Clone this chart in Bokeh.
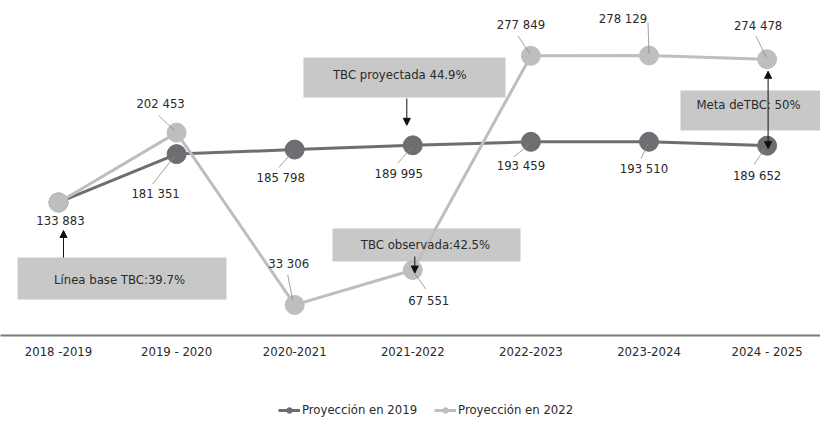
from bokeh.plotting import figure
from bokeh.layouts import column
from bokeh.models import (ColumnDataSource, Range1d, FixedTicker, LabelSet, Label,
                          BoxAnnotation, Arrow, NormalHead, Legend, LegendItem)
from bokeh.core.properties import value
from bokeh.embed import file_html
from bokeh.resources import INLINE

# ---------------- data ----------------
periods = ["2018 -2019", "2019 - 2020", "2020-2021", "2021-2022",
           "2022-2023", "2023-2024", "2024 - 2025"]
proy_2019 = [133883, 181351, 185798, 189995, 193459, 193510, 189652]
proy_2022 = [133883, 202453, 33306, 67551, 277849, 278129, 274478]
series_names = ["Proyección en 2019", "Proyección en 2022"]
annotations = ["Línea base TBC:39.7%", "TBC  proyectada  44.9%",
               "TBC observada:42.5%", "Meta deTBC: 50%"]

# ---------------- style ----------------
FONT = "DejaVu Sans Condensed"
TXT = "#2a2a2a"
DARK = "#6d6e71"
LIGHT = "#bcbec0"
BOXC = "#c8c8c8"
LEAD = "#8a8a8a"
FS = "13px"

W = 820
H_MAIN, H_LEG = 384, 40
FRAME_H = 335
PXX = 118.1                     # px per category
UPY = 981.65                    # units per px
X0 = -58 / PXX
X1 = X0 + W / PXX
Y0 = 3300
Y1 = Y0 + FRAME_H * UPY


def to_x(px):   # picture px -> data x
    return X0 + px / PXX


def to_y(py):   # picture px -> data y
    return Y1 - py * UPY


def fmt(v):
    return f"{v:,}".replace(",", " ")


xs = list(range(len(periods)))

p = figure(width=W, height=H_MAIN, output_backend="svg", toolbar_location=None,
           x_range=Range1d(X0, X1), y_range=Range1d(Y0, Y1),
           y_axis_location=None, min_border_left=0, min_border_right=0,
           min_border_top=0, min_border_bottom=H_MAIN - FRAME_H)
p.outline_line_color = None
p.grid.visible = False
p.background_fill_color = "white"

# x axis
ax = p.xaxis[0]
ax.ticker = FixedTicker(ticks=xs)
ax.major_label_overrides = {i: s for i, s in enumerate(periods)}
ax.major_tick_out = 0
ax.major_tick_in = 0
ax.minor_tick_out = 0
ax.minor_tick_in = 0
ax.axis_line_color = "#7a7a7a"
ax.axis_line_width = 2
ax.major_label_standoff = 8
ax.major_label_text_font = FONT
ax.major_label_text_font_size = FS
ax.major_label_text_color = TXT

# annotation boxes (behind everything)
boxes = [(17, 257, 226, 299), (303, 57, 505, 97), (332, 228, 520, 261), (680, 90, 822, 130)]
text_pos = [(119, 279), (403, 74), (425, 244), (748, 104)]
for (l, t, r, b), (tx, ty), txt in zip(boxes, text_pos, annotations):
    p.add_layout(BoxAnnotation(left=to_x(l), right=to_x(r), top=to_y(t), bottom=to_y(b),
                               fill_color=BOXC, fill_alpha=1, line_color=None, level="underlay"))
    p.add_layout(Label(x=to_x(tx), y=to_y(ty), text=txt, text_font=FONT, text_font_size=FS,
                       text_color=TXT, text_align="center", text_baseline="middle"))

src19 = ColumnDataSource(dict(x=xs, y=proy_2019))
src22 = ColumnDataSource(dict(x=xs, y=proy_2022))

p.line("x", "y", source=src19, line_color=DARK, line_width=3)
p.scatter("x", "y", source=src19, size=19, fill_color=DARK, line_color=DARK)
p.line("x", "y", source=src22, line_color=LIGHT, line_width=3)
p.scatter("x", "y", source=src22, size=19, fill_color=LIGHT, line_color=LIGHT)

# value labels: label dx, dy, leader start dx, dy, leader end dx, dy (px, dy downwards)
off19 = {1: (-21, 39, -24, 30, -2, 2), 2: (-14, 28, -16, 18, -1, 1), 3: (-14, 28, -15, 18, -1, 2),
         4: (-10, 24, -17, 15, -1, 2), 5: (-5, 27, -8, 17, -1, 2), 6: (-10, 30, -13, 19, -2, 2)}
off22 = {0: (2, 18, None, None, None, None), 1: (-16, -29, -18, -17, -2, -2),
         2: (-6, -41, -7, -30, -2, -5), 3: (16, 30, 1, 2, 13, 19),
         4: (-10, -31, -13, -20, -1, -2), 5: (-26, -37, -1, -33, 0, -2),
         6: (-9, -34, -11, -23, -1, -2)}

lab = dict(x=[], y=[], t=[], xo=[], yo=[])
seg = dict(x0=[], y0=[], x1=[], y1=[])
for vals, offs in ((proy_2019, off19), (proy_2022, off22)):
    for i, (dx, dy, sx, sy, ex, ey) in offs.items():
        v = vals[i]
        lab["x"].append(i)
        lab["y"].append(v)
        lab["t"].append(fmt(v))
        lab["xo"].append(dx)
        lab["yo"].append(-dy)
        if sx is not None:
            seg["x0"].append(i + sx / PXX)
            seg["y0"].append(v - sy * UPY)
            seg["x1"].append(i + ex / PXX)
            seg["y1"].append(v - ey * UPY)

p.segment("x0", "y0", "x1", "y1", source=ColumnDataSource(seg), line_color=LEAD, line_width=0.8)
p.add_layout(LabelSet(x="x", y="y", text="t", x_offset="xo", y_offset="yo",
                      source=ColumnDataSource(lab), text_font=value(FONT),
                      text_font_size=value(FS), text_color=TXT,
                      text_align="center", text_baseline="middle"))


def head():
    return NormalHead(size=7, fill_color="#111111", line_color="#111111", line_width=1)


# baseline arrow: from box top up towards 2018 label
p.add_layout(Arrow(x_start=0 + 5 / PXX, y_start=to_y(257), x_end=0 + 5 / PXX, y_end=to_y(230),
                   end=head(), line_color="#111111", line_width=1))
# projected arrow: down to 2021-2022 projected point
p.add_layout(Arrow(x_start=3 - 6 / PXX, y_start=to_y(98), x_end=3 - 6 / PXX,
                   y_end=proy_2019[3] + 20 * UPY, end=head(), line_color="#111111", line_width=1))
# observed arrow: down to 2021-2022 observed point
p.add_layout(Arrow(x_start=3 + 2 / PXX, y_start=to_y(256), x_end=3 + 2 / PXX,
                   y_end=proy_2022[3] - 3 * UPY, end=head(), line_color="#111111", line_width=1))
# goal double arrow between the two 2024-2025 points
p.add_layout(Arrow(x_start=6 + 1 / PXX, y_start=proy_2019[6] - 3 * UPY, x_end=6 + 1 / PXX,
                   y_end=proy_2022[6] - 12 * UPY, start=head(), end=head(),
                   line_color="#111111", line_width=1))

# ---------------- legend strip ----------------
lf = figure(width=W, height=H_LEG, output_backend="svg", toolbar_location=None,
            x_range=Range1d(0, 1), y_range=Range1d(0, 1),
            x_axis_location=None, y_axis_location=None,
            min_border_left=0, min_border_right=0, min_border_top=0, min_border_bottom=0)
lf.outline_line_color = None
lf.grid.visible = False
# legend key glyphs: drawn outside the strip's visible range, only their legend swatches show
off = dict(x=[5, 6], y=[5, 5])
g19 = [lf.line("x", "y", source=ColumnDataSource(off), line_color=DARK, line_width=3),
       lf.scatter("x", "y", source=ColumnDataSource(off), size=6, fill_color=DARK, line_color=DARK)]
g22 = [lf.line("x", "y", source=ColumnDataSource(off), line_color=LIGHT, line_width=3),
       lf.scatter("x", "y", source=ColumnDataSource(off), size=6, fill_color=LIGHT, line_color=LIGHT)]
legend = Legend(items=[LegendItem(label=series_names[0], renderers=g19),
                       LegendItem(label=series_names[1], renderers=g22)],
                location=(278, 7), orientation="horizontal", padding=0, margin=0,
                spacing=17, glyph_width=22, glyph_height=14, label_height=14,
                label_standoff=2, border_line_color=None, background_fill_alpha=0,
                label_text_font=FONT, label_text_font_size=FS, label_text_color=TXT)
lf.add_layout(legend, "center")

layout = column(p, lf, spacing=0)
open("out.html", "w").write(file_html(layout, INLINE))
